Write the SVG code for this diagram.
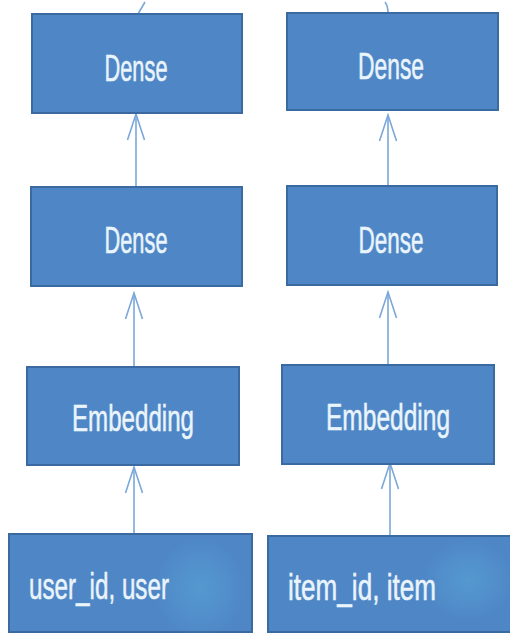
<svg xmlns="http://www.w3.org/2000/svg" width="510" height="633" viewBox="0 0 510 633">
<style>
.box{fill:#4f87c6;stroke:#3a6aa0;stroke-width:2}
.lbl{font-family:"Liberation Sans",Arial,sans-serif;font-size:27px;fill:#eaf4fb;stroke:#eaf4fb;stroke-width:0.4;text-anchor:middle}
.lbl2{font-family:"Liberation Sans",Arial,sans-serif;font-size:27px;fill:#eaf4fb;stroke:#eaf4fb;stroke-width:0.4}
.conn{stroke:#7ba7d9;stroke-width:1.6;fill:none}
</style>
<defs>
<marker id="arr" markerUnits="userSpaceOnUse" orient="auto" refX="0" refY="0" markerWidth="30" markerHeight="20" overflow="visible">
<path d="M-26,-8.5 L0,0 L-26,8.5" fill="none" stroke="#7ba7d9" stroke-width="1.6"/>
</marker>
<radialGradient id="blob" cx="0.5" cy="0.5" r="0.5">
<stop offset="0" stop-color="#5aaedc" stop-opacity="0.45"/>
<stop offset="0.6" stop-color="#5aaedc" stop-opacity="0.2"/>
<stop offset="1" stop-color="#5aaedc" stop-opacity="0"/>
</radialGradient>
</defs>
<rect width="510" height="633" fill="#ffffff"/>
<g id="connectors">
<path class="conn" d="M138,14 L145,2"/>
<path class="conn" d="M388,13 Q388,6 385,2"/>
<line class="conn" x1="136" y1="186" x2="136" y2="114" marker-end="url(#arr)"/>
<line class="conn" x1="134" y1="366" x2="134" y2="293" marker-end="url(#arr)"/>
<line class="conn" x1="134" y1="533" x2="134" y2="467" marker-end="url(#arr)"/>
<line class="conn" x1="388" y1="186" x2="388" y2="115" marker-end="url(#arr)"/>
<line class="conn" x1="388" y1="364" x2="388" y2="292" marker-end="url(#arr)"/>
<line class="conn" x1="390" y1="535" x2="390" y2="463" marker-end="url(#arr)"/>
</g>
<g id="dense_user_top">
<rect class="box" x="32" y="14" width="210" height="99"/>
<text class="lbl" transform="translate(136,81) scale(1,1.38)" textLength="63" lengthAdjust="spacingAndGlyphs">Dense</text>
</g>
<g id="dense_user">
<rect class="box" x="31" y="187" width="211" height="99"/>
<text class="lbl" transform="translate(136,253) scale(1,1.38)" textLength="63" lengthAdjust="spacingAndGlyphs">Dense</text>
</g>
<g id="embedding_user">
<rect class="box" x="27" y="367" width="212" height="98"/>
<text class="lbl" transform="translate(133,431) scale(1,1.38)" textLength="122" lengthAdjust="spacingAndGlyphs">Embedding</text>
</g>
<g id="input_user">
<rect class="box" x="9" y="534" width="243" height="98"/>
<ellipse cx="200" cy="588" rx="45" ry="50" fill="url(#blob)"/>
<text class="lbl2" transform="translate(29,599) scale(1,1.38)" textLength="140" lengthAdjust="spacingAndGlyphs">user_id, user</text>
</g>
<g id="dense_item_top">
<rect class="box" x="287" y="13" width="211" height="97"/>
<text class="lbl" transform="translate(391,79) scale(1,1.38)" textLength="66" lengthAdjust="spacingAndGlyphs">Dense</text>
</g>
<g id="dense_item">
<rect class="box" x="287" y="186" width="210" height="99"/>
<text class="lbl" transform="translate(391,253) scale(1,1.38)" textLength="65" lengthAdjust="spacingAndGlyphs">Dense</text>
</g>
<g id="embedding_item">
<rect class="box" x="282" y="365" width="212" height="99"/>
<text class="lbl" transform="translate(388,430) scale(1,1.38)" textLength="124" lengthAdjust="spacingAndGlyphs">Embedding</text>
</g>
<g id="input_item">
<rect class="box" x="268" y="536" width="244" height="96"/>
<ellipse cx="468" cy="580" rx="45" ry="40" fill="url(#blob)"/>
<text class="lbl2" transform="translate(288,600) scale(1,1.38)" textLength="148" lengthAdjust="spacingAndGlyphs">item_id, item</text>
</g>
</svg>
